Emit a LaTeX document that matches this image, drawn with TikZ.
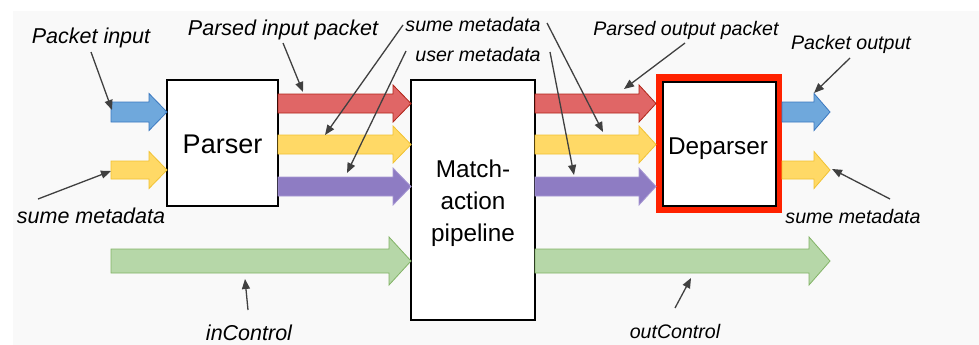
\documentclass[tikz,border=0pt]{standalone}
\usepackage{fontspec}
\setmainfont{Liberation Sans}
\usetikzlibrary{arrows.meta,shadows}
\definecolor{bgc}{HTML}{F9F9F9}
\definecolor{bluef}{HTML}{6FA8DC}\definecolor{blued}{HTML}{3A78C0}
\definecolor{redf}{HTML}{E06666}\definecolor{redd}{HTML}{B02418}
\definecolor{yelf}{HTML}{FFD966}\definecolor{yeld}{HTML}{F1C232}
\definecolor{purf}{HTML}{8E7CC3}\definecolor{purd}{HTML}{A899D4}
\definecolor{grnf}{HTML}{B6D7A8}\definecolor{grnd}{HTML}{82B366}
\definecolor{frame}{HTML}{FF2200}
\definecolor{callc}{HTML}{404040}
\newcommand{\blockarr}[8]{%
  \draw[draw=#8, fill=#7, line width=0.8pt, line join=miter]
    (#1,#4-#5) -- (#3,#4-#5) -- (#3,#4-#6) -- (#2,#4) -- (#3,#4+#6) -- (#3,#4+#5) -- (#1,#4+#5) -- cycle;}
\tikzset{
  box/.style={draw=black, line width=1.5pt, fill=white, inner sep=0pt},
  lblL/.style={font=\fontsize{21.5}{24}\selectfont\itshape, anchor=base, inner sep=0pt},
  lblR/.style={font=\fontsize{19.6}{22}\selectfont\itshape, anchor=base, inner sep=0pt},
  boxtxt/.style={anchor=base, inner sep=0pt},
  callout/.style={draw=callc, line width=1.3pt, -{Triangle[length=10pt,width=8pt]}}
}
\begin{document}
\begin{tikzpicture}[x=1pt,y=-1pt]
\useasboundingbox (0,0) rectangle (979,345);
\fill[bgc] (13,11) rectangle (979,345);

% red highlight frame behind deparser
\draw[frame, fill=white, line width=7pt, drop shadow={shadow xshift=2.5pt, shadow yshift=-3.5pt, opacity=0.4}] (659.5,77.5) rectangle (778.5,209.5);

% boxes
\node[box, minimum width=111pt, minimum height=126pt] (parser) at (222.5,143) {};
\node[box, minimum width=124pt, minimum height=240pt] (match) at (473,200) {};
\node[box, fill=none, minimum width=113pt, minimum height=124pt] (deparser) at (719.5,144) {};

\node[boxtxt, font=\fontsize{27}{30}\selectfont] (parsertxt) at (222.5,153) {Parser};
\node[boxtxt, font=\fontsize{24.3}{27}\selectfont] (deptxt) at (718,154) {Deparser};
\node[boxtxt, font=\fontsize{24.3}{27}\selectfont] (m1) at (473,177) {Match-};
\node[boxtxt, font=\fontsize{24.3}{27}\selectfont] (m2) at (473,209) {action};
\node[boxtxt, font=\fontsize{24.3}{27}\selectfont] (m3) at (473,241) {pipeline};

% block arrows: x1, xtip, xheadbase, yc, half shaft, half head, fill, draw
\blockarr{111}{167}{149}{112}{10}{18.5}{bluef}{blued}
\blockarr{111}{167}{149}{170}{9}{18.5}{yelf}{yeld}
\blockarr{278}{411}{393}{103.5}{9.5}{18.5}{redf}{redd}
\blockarr{278}{411}{393}{144.5}{9.5}{18.5}{yelf}{yeld}
\blockarr{278}{411}{393}{186.5}{9.5}{18.5}{purf}{purd}
\blockarr{111}{411}{389}{261}{12}{24}{grnf}{grnd}
\blockarr{535}{656}{639}{103.5}{9.5}{18.5}{redf}{redd}
\blockarr{535}{656}{639}{144.5}{9.5}{18.5}{yelf}{yeld}
\blockarr{535}{656}{639}{186.5}{9.5}{18.5}{purf}{purd}
\blockarr{535}{830}{809}{261}{12}{24}{grnf}{grnd}
\blockarr{782}{830}{814}{112}{10}{18.5}{bluef}{blued}
\blockarr{782}{830}{814}{170}{9}{18.5}{yelf}{yeld}

% labels
\node[lblL] (pin) at (91,44) {Packet input};
\node[lblL] (ppin) at (283,36) {Parsed input packet};
\node[lblR] (sumeT) at (473,32) {sume metadata};
\node[lblR] (userT) at (478,62) {user metadata};
\node[lblR] (ppout) at (686,36) {Parsed output packet};
\node[lblR] (pout) at (851,50) {Packet output};
\node[lblL] (sumeL) at (91,223) {sume metadata};
\node[lblR] (sumeR) at (853,223) {sume metadata};
\node[lblL] (inc) at (249,340) {inControl};
\node[lblR] (outc) at (675,338) {outControl};

% callout endpoints
\coordinate (c1s) at (91,52);   \coordinate (c1e) at (112,110);
\coordinate (c2s) at (38,199);  \coordinate (c2e) at (111,171);
\coordinate (c3s) at (283,43);  \coordinate (c3e) at (303,92);
\coordinate (c4s) at (403,25);  \coordinate (c4e) at (325,135);
\coordinate (c5s) at (406,51);  \coordinate (c5e) at (347,173);
\coordinate (c6s) at (547,23);  \coordinate (c6e) at (603,132);
\coordinate (c7s) at (550,52);  \coordinate (c7e) at (574,175);
\coordinate (c8s) at (685,43);  \coordinate (c8e) at (624,89);
\coordinate (c9s) at (850,58);  \coordinate (c9e) at (814,93);
\coordinate (c10s) at (890,199); \coordinate (c10e) at (832,169);
\coordinate (c11s) at (248,310); \coordinate (c11e) at (245,279);
\coordinate (c12s) at (675,308); \coordinate (c12e) at (691,278);
\foreach \i in {1,...,12} {\draw[callout] (c\i s) -- (c\i e);}
\end{tikzpicture}
\end{document}
